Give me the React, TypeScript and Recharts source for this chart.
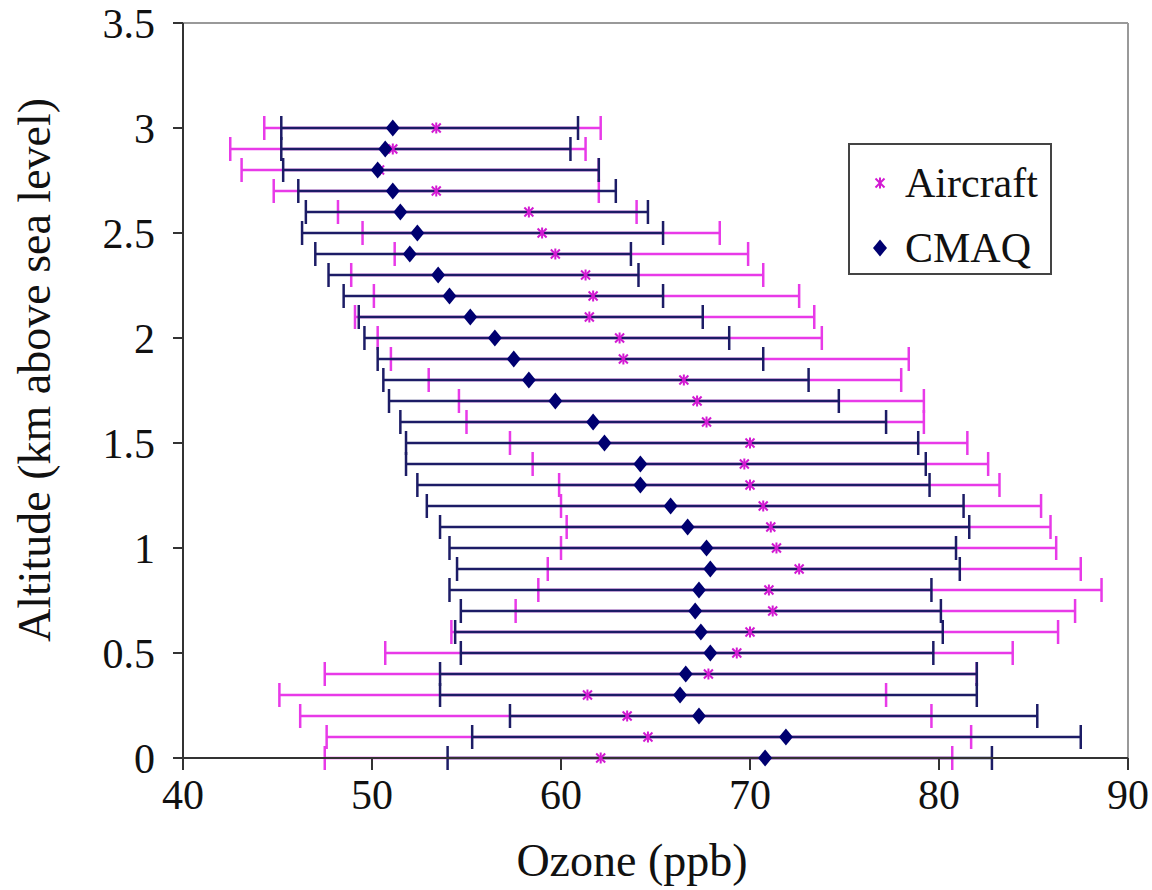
import { ErrorBar, Label, Legend, ReferenceLine, Scatter, ScatterChart, XAxis, YAxis } from 'recharts'

const SERIF = '"Liberation Serif", "DejaVu Serif", "Times New Roman", serif'

// altitude levels (km above sea level), bottom to top
const altitude = [
  0, 0.1, 0.2, 0.3, 0.4, 0.5, 0.6, 0.7, 0.8, 0.9, 1.0, 1.1, 1.2, 1.3, 1.4, 1.5,
  1.6, 1.7, 1.8, 1.9, 2.0, 2.1, 2.2, 2.3, 2.4, 2.5, 2.6, 2.7, 2.8, 2.9, 3.0,
]

// CMAQ ozone (ppb): mean, lower and upper end of the range
const cmaqMean = [
  70.8, 71.9, 67.3, 66.3, 66.6, 67.9, 67.4, 67.1, 67.3, 67.9, 67.7, 66.7, 65.8, 64.2, 64.2, 62.3,
  61.7, 59.7, 58.3, 57.5, 56.5, 55.2, 54.1, 53.5, 52.0, 52.4, 51.5, 51.1, 50.3, 50.7, 51.1,
]
const cmaqLow = [
  54.0, 55.3, 57.3, 53.6, 53.6, 54.7, 54.4, 54.7, 54.1, 54.5, 54.1, 53.6, 52.9, 52.4, 51.8, 51.8,
  51.5, 50.9, 50.6, 50.3, 49.6, 49.3, 48.5, 47.7, 47.0, 46.3, 46.5, 46.1, 45.3, 45.2, 45.2,
]
const cmaqHigh = [
  82.8, 87.5, 85.2, 82.0, 82.0, 79.7, 80.2, 80.1, 79.6, 81.1, 80.9, 81.6, 81.3, 79.5, 79.3, 78.9,
  77.2, 74.7, 73.1, 70.7, 68.9, 67.5, 65.4, 64.1, 63.7, 65.4, 64.6, 62.9, 62.0, 60.5, 60.9,
]

// Aircraft ozone (ppb)
const aircraftMean = [
  62.1, 64.6, 63.5, 61.4, 67.8, 69.3, 70.0, 71.2, 71.0, 72.6, 71.4, 71.1, 70.7, 70.0, 69.7, 70.0,
  67.7, 67.2, 66.5, 63.3, 63.1, 61.5, 61.7, 61.3, 59.7, 59.0, 58.3, 53.4, 50.4, 51.1, 53.4,
]
const aircraftLow = [
  47.5, 47.6, 46.2, 45.1, 47.5, 50.7, 54.2, 57.6, 58.8, 59.3, 60.0, 60.3, 60.0, 59.9, 58.5, 57.3,
  55.0, 54.6, 53.0, 51.0, 50.3, 49.1, 50.1, 48.9, 51.2, 49.5, 48.2, 44.8, 43.1, 42.5, 44.3,
]
const aircraftHigh = [
  80.7, 81.7, 79.6, 77.2, 82.0, 83.9, 86.3, 87.2, 88.6, 87.5, 86.2, 85.9, 85.4, 83.2, 82.6, 81.5,
  79.2, 79.2, 78.0, 78.4, 73.8, 73.4, 72.6, 70.7, 69.9, 68.4, 64.0, 62.0, 62.0, 61.3, 62.1,
]

const xTicks = [40, 50, 60, 70, 80, 90]
const yTicks = [0, 0.5, 1, 1.5, 2, 2.5, 3, 3.5]

const MAGENTA = '#e83ae8'
const NAVY = '#1c1c66'
const DIAMOND = '#000070'

function buildRows(mean: number[], low: number[], high: number[]) {
  return altitude.map((y, i) => ({ y, x: mean[i], err: [mean[i] - low[i], high[i] - mean[i]] }))
}

const aircraftRows = buildRows(aircraftMean, aircraftLow, aircraftHigh)
const cmaqRows = buildRows(cmaqMean, cmaqLow, cmaqHigh)

const textStyle = { fontFamily: SERIF, fill: '#111' }

const Nothing = () => <g />

const StarMark = ({ cx, cy }: any) => {
  const r = 4.5
  return (
    <g stroke="#d21ad2" strokeWidth={2}>
      <line x1={cx - r} y1={cy - r} x2={cx + r} y2={cy + r} />
      <line x1={cx - r} y1={cy + r} x2={cx + r} y2={cy - r} />
      <line x1={cx} y1={cy - r - 1} x2={cx} y2={cy + r + 1} />
    </g>
  )
}

const DiamondMark = ({ cx, cy }: any) => (
  <polygon points={`${cx},${cy - 8.5} ${cx + 7},${cy} ${cx},${cy + 8.5} ${cx - 7},${cy}`} fill={DIAMOND} />
)

const XTick = ({ x, y, payload }: any) => (
  <text x={x} y={y} dy="0.7em" textAnchor="middle" fontSize={42} style={textStyle}>
    {payload.value}
  </text>
)

const YTick = ({ x, y, payload }: any) => (
  <text x={x} y={y} dy="0.35em" textAnchor="end" fontSize={42} style={textStyle}>
    {payload.value}
  </text>
)

const yTitle = () => (
  <text x={50} y={370} transform="rotate(-90 50 370)" textAnchor="middle" fontSize={46} style={textStyle}>
    Altitude (km above sea level)
  </text>
)

const xTitle = () => (
  <text x={632} y={876} textAnchor="middle" fontSize={46} style={textStyle}>
    Ozone (ppb)
  </text>
)

const LegendBox = () => (
  <div
    style={{
      position: 'relative',
      width: 204,
      height: 132,
      boxSizing: 'border-box',
      border: '2px solid #444',
      background: '#fff',
      fontFamily: SERIF,
      fontSize: 42,
      color: '#111',
    }}
  >
    <svg width={20} height={20} style={{ position: 'absolute', left: 20, top: 28 }}>
      <StarMark cx={10} cy={10} />
    </svg>
    <span style={{ position: 'absolute', left: 55, top: 13, lineHeight: '50px' }}>Aircraft</span>
    <svg width={20} height={20} style={{ position: 'absolute', left: 20, top: 93 }}>
      <DiamondMark cx={10} cy={10} />
    </svg>
    <span style={{ position: 'absolute', left: 55, top: 78, lineHeight: '50px' }}>CMAQ</span>
  </div>
)

export default function App() {
  return (
    <div style={{ position: 'absolute', left: 0, top: 0, width: 1152, height: 890, overflow: 'hidden', background: '#fff' }}>
      <ScatterChart width={1152} height={890} margin={{ top: 23, right: 24, bottom: 0, left: 0 }}>
        <XAxis
          type="number"
          dataKey="x"
          domain={[40, 90]}
          ticks={xTicks}
          height={132}
          tickSize={12}
          tickMargin={10}
          tick={<XTick />}
          axisLine={{ stroke: '#333', strokeWidth: 2 }}
          tickLine={{ stroke: '#333', strokeWidth: 2 }}
        >
          <Label content={xTitle} />
        </XAxis>
        <YAxis
          type="number"
          dataKey="y"
          domain={[0, 3.5]}
          ticks={yTicks}
          width={183}
          tickSize={10}
          tickMargin={18}
          tick={<YTick />}
          axisLine={{ stroke: '#333', strokeWidth: 2 }}
          tickLine={{ stroke: '#333', strokeWidth: 2 }}
        >
          <Label content={yTitle} />
        </YAxis>
        <ReferenceLine y={3.5} stroke="#999" strokeWidth={2} />
        <ReferenceLine x={90} stroke="#999" strokeWidth={2} />

        <Scatter name="Aircraft range" data={aircraftRows} shape={Nothing} legendType="none" isAnimationActive={false}>
          <ErrorBar dataKey="err" direction="x" width={12} stroke={MAGENTA} strokeWidth={2.5} isAnimationActive={false} />
        </Scatter>
        <Scatter name="CMAQ range" data={cmaqRows} shape={Nothing} legendType="none" isAnimationActive={false}>
          <ErrorBar dataKey="err" direction="x" width={12} stroke={NAVY} strokeWidth={2.5} isAnimationActive={false} />
        </Scatter>
        <Scatter name="Aircraft" data={aircraftRows} shape={StarMark} isAnimationActive={false} />
        <Scatter name="CMAQ" data={cmaqRows} shape={DiamondMark} isAnimationActive={false} />

        <Legend
          layout="vertical"
          align="center"
          verticalAlign="middle"
          content={() => <LegendBox />}
          wrapperStyle={{ position: 'absolute', left: 848, top: 143, width: 204, height: 132 }}
        />
      </ScatterChart>
    </div>
  )
}
